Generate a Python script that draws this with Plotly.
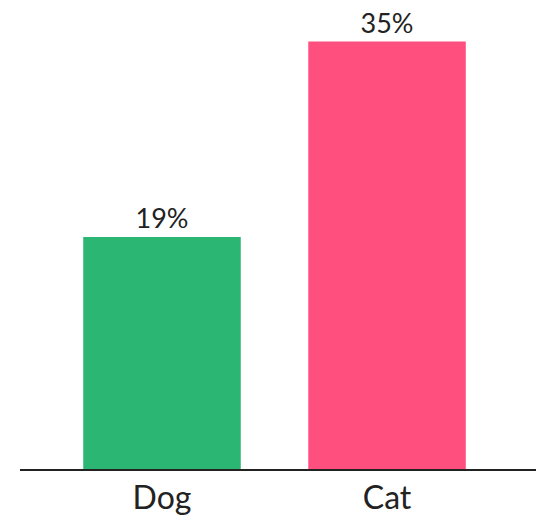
import plotly.graph_objects as go

categories = ["Dog", "Cat"]
values = [19, 35]
labels = ["19%", "35%"]
colors = ["#2BB673", "#FF4F7E"]

fig = go.Figure(go.Bar(
    x=categories, y=values, text=labels, textposition="outside",
    marker=dict(color=colors, line=dict(width=0)),
    width=0.70, cliponaxis=False,
    textfont=dict(size=27, color="#222222", family="Lato"),
))

fig.update_layout(
    width=536, height=516,
    margin=dict(l=20, r=0, t=0, b=47),
    paper_bgcolor="white", plot_bgcolor="white",
    showlegend=False,
    font=dict(family="Lato", color="#222222"),
    xaxis=dict(range=[-0.631, 1.662], showline=True, linecolor="#222222", linewidth=2,
               showgrid=False, zeroline=False, ticks="", tickfont=dict(size=32, color="#222222"),
               fixedrange=True),
    yaxis=dict(range=[0, 38.4], visible=False, showgrid=False, zeroline=False, fixedrange=True),
)

fig.write_html("out.html", config={"displayModeBar": False},
               post_script="document.body.style.margin='0';document.body.style.overflow='hidden';")
